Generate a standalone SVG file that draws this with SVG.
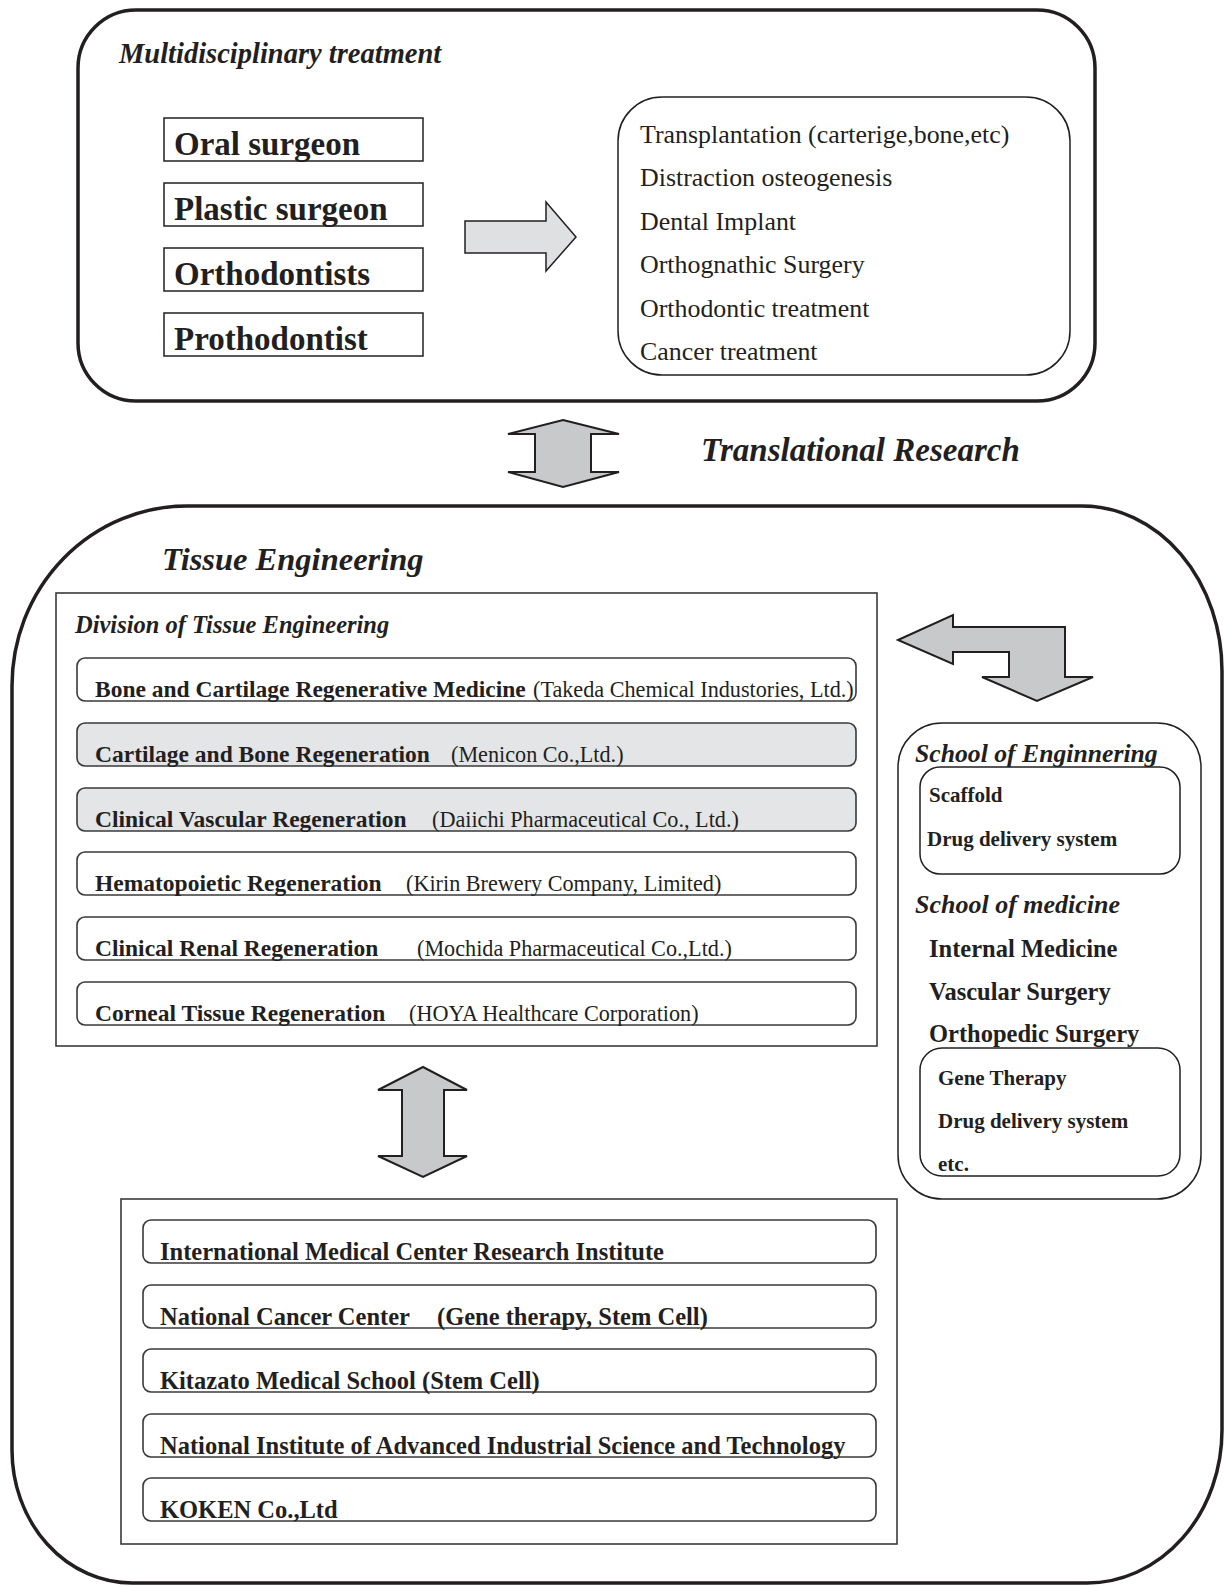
<svg xmlns="http://www.w3.org/2000/svg" width="1224" height="1586" viewBox="0 0 1224 1586">
<style>
text{font-family:"Liberation Serif","Times New Roman",serif;fill:#231f20}
.b{font-weight:bold}
.bi{font-weight:bold;font-style:italic}
.big{fill:none;stroke:#231f20;stroke-width:3.5}
.box{fill:#fff;stroke:#231f20;stroke-width:1.5}
.row{fill:#fff;stroke:#3a3a3a;stroke-width:1.6}
.grow{fill:#e4e5e7;stroke:#3a3a3a;stroke-width:1.6}
.arr{fill:#c8c9cb;stroke:#231f20;stroke-width:2;stroke-linejoin:miter}
.arrl{fill:#dfe0e2;stroke:#231f20;stroke-width:1.5}
</style>
<rect width="1224" height="1586" fill="#fff"/>

<g id="multidisciplinary">
<rect class="big" x="78" y="10" width="1017" height="391" rx="58" ry="58"/>
<text class="bi" x="119" y="63" font-size="28.5">Multidisciplinary treatment</text>
</g>
<g id="oral-surgeon"><rect class="box" x="164" y="118" width="259" height="43"/><text class="b" x="174" y="155" font-size="33">Oral surgeon</text></g>
<g id="plastic-surgeon"><rect class="box" x="164" y="183" width="259" height="43"/><text class="b" x="174" y="220" font-size="33">Plastic surgeon</text></g>
<g id="orthodontists"><rect class="box" x="164" y="248" width="259" height="43"/><text class="b" x="174" y="285" font-size="33">Orthodontists</text></g>
<g id="prothodontist"><rect class="box" x="164" y="313" width="259" height="43"/><text class="b" x="174" y="350" font-size="33">Prothodontist</text></g>

<g id="treatments">
<rect class="box" x="618" y="97" width="452" height="278" rx="44" ry="44"/>
<text x="640" y="143" font-size="25.9">Transplantation (carterige,bone,etc)</text>
<text x="640" y="186" font-size="25.9">Distraction osteogenesis</text>
<text x="640" y="230" font-size="25.9">Dental Implant</text>
<text x="640" y="273" font-size="25.9">Orthognathic Surgery</text>
<text x="640" y="317" font-size="25.9">Orthodontic treatment</text>
<text x="640" y="360" font-size="25.9">Cancer treatment</text>
</g>

<g id="translational-label">
<text class="bi" x="701" y="461" font-size="33">Translational Research</text>
</g>

<g id="tissue-engineering">
<path class="big" d="M187,506 H1082 A140,165 0 0 1 1222,671 V1430 A135,153 0 0 1 1087,1583 H132 A120,133 0 0 1 12,1450 V686 A175,180 0 0 1 187,506 Z"/>
<text class="bi" x="162" y="570" font-size="32.5">Tissue Engineering</text>
</g>

<g id="division">
<rect x="56" y="593" width="821" height="453" fill="#fff" stroke="#3a3a3a" stroke-width="1.6"/>
<text class="bi" x="75" y="633" font-size="24.5">Division of Tissue Engineering</text>
</g>
<g id="row-bone-cartilage"><rect class="row" x="77" y="658" width="779" height="43" rx="8"/><text y="697"><tspan class="b" x="95" font-size="23.5">Bone and Cartilage Regenerative Medicine</tspan><tspan x="533" font-size="22.2">(Takeda Chemical Industories, Ltd.)</tspan></text></g>
<g id="row-cartilage-bone"><rect class="grow" x="77" y="723" width="779" height="43" rx="8"/><text y="762"><tspan class="b" x="95" font-size="23.5">Cartilage and Bone Regeneration</tspan><tspan x="451" font-size="22.2">(Menicon Co.,Ltd.)</tspan></text></g>
<g id="row-vascular"><rect class="grow" x="77" y="788" width="779" height="43" rx="8"/><text y="827"><tspan class="b" x="95" font-size="23.5">Clinical Vascular Regeneration</tspan><tspan x="432" font-size="22.2">(Daiichi Pharmaceutical Co., Ltd.)</tspan></text></g>
<g id="row-hematopoietic"><rect class="row" x="77" y="852" width="779" height="43" rx="8"/><text y="891"><tspan class="b" x="95" font-size="23.5">Hematopoietic Regeneration</tspan><tspan x="406" font-size="22.2">(Kirin Brewery Company, Limited)</tspan></text></g>
<g id="row-renal"><rect class="row" x="77" y="917" width="779" height="43" rx="8"/><text y="956"><tspan class="b" x="95" font-size="23.5">Clinical Renal Regeneration</tspan><tspan x="417" font-size="22.2">(Mochida Pharmaceutical Co.,Ltd.)</tspan></text></g>
<g id="row-corneal"><rect class="row" x="77" y="982" width="779" height="43" rx="8"/><text y="1021"><tspan class="b" x="95" font-size="23.5">Corneal Tissue Regeneration</tspan><tspan x="409" font-size="22.2">(HOYA Healthcare Corporation)</tspan></text></g>

<g id="schools">
<rect class="box" x="898" y="723" width="303" height="476" rx="44" ry="44"/>
<text class="bi" x="915" y="762" font-size="25.7">School of Enginnering</text>
<rect class="box" x="920" y="767" width="260" height="107" rx="20" ry="20"/>
<text class="b" x="929" y="802" font-size="21">Scaffold</text>
<text class="b" x="927" y="846" font-size="21">Drug delivery system</text>
<text class="bi" x="915" y="913" font-size="26">School of medicine</text>
<text class="b" x="929" y="957" font-size="24.5">Internal Medicine</text>
<text class="b" x="929" y="1000" font-size="24.5">Vascular Surgery</text>
<text class="b" x="929" y="1042" font-size="24.5">Orthopedic Surgery</text>
<rect class="box" x="920" y="1048" width="260" height="128" rx="22" ry="22"/>
<text class="b" x="938" y="1085" font-size="21">Gene Therapy</text>
<text class="b" x="938" y="1128" font-size="21">Drug delivery system</text>
<text class="b" x="938" y="1171" font-size="21">etc.</text>
</g>

<g id="institutes">
<rect x="121" y="1199" width="776" height="345" fill="#fff" stroke="#3a3a3a" stroke-width="1.6"/>
</g>
<g id="inst-imcri"><rect class="row" x="143" y="1220" width="733" height="43" rx="8"/><text class="b" x="160" y="1260" font-size="24.5">International Medical Center Research Institute</text></g>
<g id="inst-ncc"><rect class="row" x="143" y="1285" width="733" height="43" rx="8"/><text class="b" y="1325" font-size="24.5"><tspan x="160">National Cancer Center</tspan><tspan x="437">(Gene therapy, Stem Cell)</tspan></text></g>
<g id="inst-kitazato"><rect class="row" x="143" y="1349" width="733" height="43" rx="8"/><text class="b" x="160" y="1389" font-size="24.5">Kitazato Medical School (Stem Cell)</text></g>
<g id="inst-aist"><rect class="row" x="143" y="1414" width="733" height="43" rx="8"/><text class="b" x="160" y="1454" font-size="24.5">National Institute of Advanced Industrial Science and Technology</text></g>
<g id="inst-koken"><rect class="row" x="143" y="1478" width="733" height="43" rx="8"/><text class="b" x="160" y="1518" font-size="24.5">KOKEN Co.,Ltd</text></g>

<g id="connectors">
<polygon class="arrl" points="465,221 546,221 546,202 576,237 546,271 546,253 465,253"/>
<polygon class="arr" points="563,420 619,434 591,434 591,472 619,472 563,487 508,472 535,472 535,434 508,434"/>
<polygon class="arr" points="898,640 953,615 953,627 1065,627 1065,677 1093,677 1037,701 982,677 1009,677 1009,652 953,652 953,664"/>
<polygon class="arr" points="423,1067 467,1090 444,1090 444,1156 467,1156 423,1177 378,1156 402,1156 402,1090 378,1090"/>
</g>
</svg>
